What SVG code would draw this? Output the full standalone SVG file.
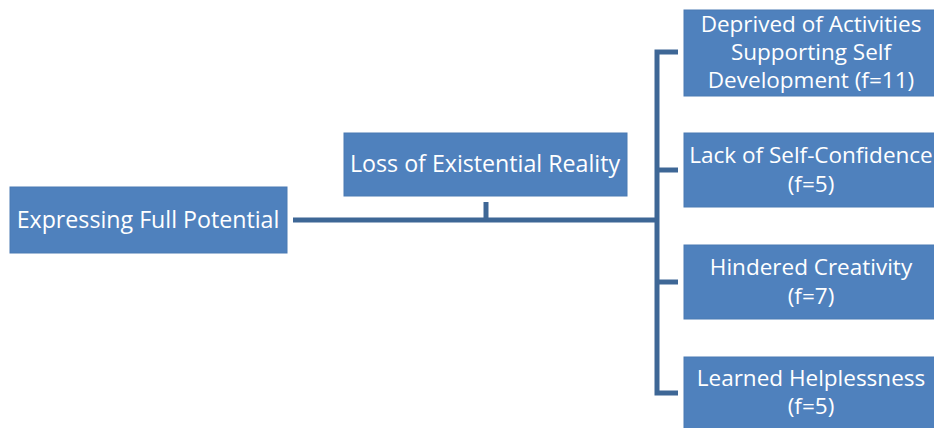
<svg xmlns="http://www.w3.org/2000/svg" width="934" height="428" viewBox="0 0 934 428">
  <style>
    .box { fill: #4F81BD; stroke: #4A7AB3; stroke-width: 1; }
    .lbl { fill: #FFFFFF; font-family: "Open Sans", "Liberation Sans", sans-serif; font-size: 22.5px; text-anchor: middle; }
    .big { font-size: 23.2px; }
    .wire { fill: none; stroke: #3E6796; stroke-width: 5; stroke-linecap: butt; stroke-linejoin: miter; }
  </style>
  <rect width="934" height="428" fill="#FFFFFF"/>

  <g id="connectors">
    <path class="wire" d="M293 220 H657"/>
    <path class="wire" d="M486 202 V220"/>
    <path class="wire" d="M678 52 H657 V393 H678"/>
    <path class="wire" d="M657 170 H678"/>
    <path class="wire" d="M657 282 H678"/>
  </g>

  <g id="expressing-full-potential">
    <rect class="box" x="10" y="187" width="277" height="66"/>
    <text class="lbl big" x="148" y="228">Expressing Full Potential</text>
  </g>

  <g id="loss-of-existential-reality">
    <rect class="box" x="344" y="133" width="283" height="63"/>
    <text class="lbl big" x="485" y="172">Loss of Existential Reality</text>
  </g>

  <g id="deprived-of-activities">
    <rect class="box" x="684" y="10" width="254" height="86"/>
    <text class="lbl" x="811" y="32">Deprived of Activities</text>
    <text class="lbl" x="811" y="60">Supporting Self</text>
    <text class="lbl" x="811" y="88">Development (f=11)</text>
  </g>

  <g id="lack-of-self-confidence">
    <rect class="box" x="684" y="133" width="254" height="74"/>
    <text class="lbl" x="811" y="163">Lack of Self-Confidence</text>
    <text class="lbl" x="811" y="192">(f=5)</text>
  </g>

  <g id="hindered-creativity">
    <rect class="box" x="684" y="245" width="254" height="74"/>
    <text class="lbl" x="811" y="275">Hindered Creativity</text>
    <text class="lbl" x="811" y="304">(f=7)</text>
  </g>

  <g id="learned-helplessness">
    <rect class="box" x="684" y="357" width="254" height="74"/>
    <text class="lbl" x="811" y="386">Learned Helplessness</text>
    <text class="lbl" x="811" y="414">(f=5)</text>
  </g>
</svg>
